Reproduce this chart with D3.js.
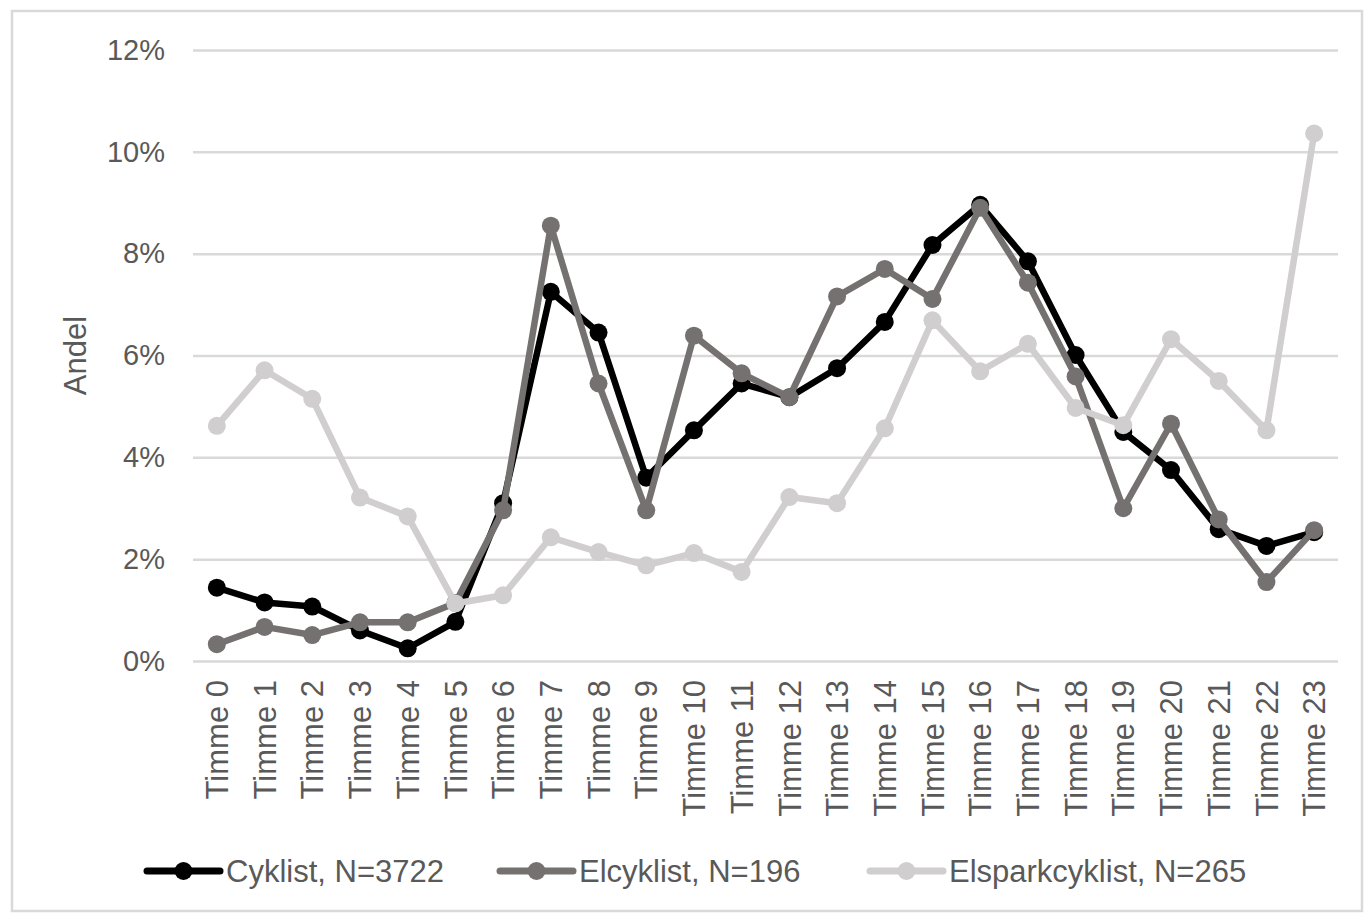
<!DOCTYPE html>
<html>
<head>
<meta charset="utf-8">
<script src="https://cdn.jsdelivr.net/npm/d3@7"></script>
<style>
  body { margin: 0; background: #fff; }
  svg { display: block; font-family: "Liberation Sans", Arial, sans-serif; }
</style>
</head>
<body>
<div id="chart"></div>
<script>
// hours on the x axis
const hours = d3.range(24).map(h => "Timme " + h);

// share per hour, in percent
const cyklist = [1.44, 1.15, 1.07, 0.60, 0.25, 0.77, 3.10, 7.25, 6.45, 3.60, 4.53, 5.45,
  5.18, 5.75, 6.66, 8.17, 8.96, 7.85, 6.01, 4.50, 3.75, 2.59, 2.26, 2.53];
const elcyklist = [0.33, 0.67, 0.51, 0.76, 0.76, 1.14, 2.96, 8.55, 5.45, 2.96, 6.39, 5.65,
  5.18, 7.16, 7.70, 7.11, 8.90, 7.43, 5.59, 3.00, 4.66, 2.78, 1.55, 2.57];
const elsparkcyklist = [4.62, 5.71, 5.15, 3.21, 2.84, 1.13, 1.29, 2.43, 2.14, 1.88, 2.12, 1.75,
  3.22, 3.10, 4.57, 6.69, 5.69, 6.23, 4.97, 4.63, 6.32, 5.50, 4.53, 10.36];

const seriesNames = ["Cyklist, N=3722", "Elcyklist, N=196", "Elsparkcyklist, N=265"];
const yTicks = [0, 2, 4, 6, 8, 10, 12];

const colors = ["#000000", "#767171", "#d0cece"];
const textColor = "#595959";

const W = 1364, H = 916;
const margin = { left: 193, right: 26, top: 50, bottom: 255 };

const svg = d3.select("#chart").append("svg")
  .attr("width", W)
  .attr("height", H);

// chart frame
svg.append("rect")
  .attr("x", 12).attr("y", 11)
  .attr("width", 1350).attr("height", 900)
  .attr("fill", "#fff")
  .attr("stroke", "#d9d9d9")
  .attr("stroke-width", 2.5);

const x = d3.scaleBand()
  .domain(hours)
  .range([margin.left, W - margin.right]);

const y = d3.scaleLinear()
  .domain([0, 12])
  .range([H - margin.bottom, margin.top]);

// gridlines + y labels
const yAxis = d3.axisLeft(y)
  .tickValues(yTicks)
  .tickSize(-(W - margin.left - margin.right))
  .tickPadding(28)
  .tickFormat(d => d + "%");

const gy = svg.append("g")
  .attr("transform", `translate(${margin.left},0)`)
  .call(yAxis);
gy.select(".domain").remove();
gy.selectAll(".tick line").attr("stroke", "#d9d9d9").attr("stroke-width", 2.5);
gy.selectAll(".tick text")
  .attr("fill", textColor)
  .style("font-size", "29px");

// x labels
const xAxis = d3.axisBottom(x).tickSize(0).tickPadding(0);
const gx = svg.append("g")
  .attr("transform", `translate(0,${H - margin.bottom})`)
  .call(xAxis);
gx.select(".domain").remove();
gx.selectAll(".tick text")
  .attr("fill", textColor)
  .style("font-size", "31px")
  .attr("text-anchor", "end")
  .attr("transform", "rotate(-90)")
  .attr("x", -19)
  .attr("y", 0)
  .attr("dy", "0.36em");

// y title
svg.append("text")
  .attr("transform", `translate(86,${(margin.top + H - margin.bottom) / 2}) rotate(-90)`)
  .attr("text-anchor", "middle")
  .attr("fill", textColor)
  .style("font-size", "31px")
  .text("Andel");

const allSeries = [cyklist, elcyklist, elsparkcyklist];
const line = d3.line()
  .x((d, i) => x(hours[i]) + x.bandwidth() / 2)
  .y(d => y(d));

allSeries.forEach((data, k) => {
  const g = svg.append("g");
  g.append("path")
    .datum(data)
    .attr("fill", "none")
    .attr("stroke", colors[k])
    .attr("stroke-width", 6.5)
    .attr("stroke-linejoin", "round")
    .attr("d", line);
  g.selectAll("circle")
    .data(data)
    .join("circle")
    .attr("cx", (d, i) => x(hours[i]) + x.bandwidth() / 2)
    .attr("cy", d => y(d))
    .attr("r", 9)
    .attr("fill", colors[k]);
});

// legend
const legendX = [147, 500, 870];
const legendY = 871;
seriesNames.forEach((name, k) => {
  const g = svg.append("g").attr("transform", `translate(${legendX[k]},${legendY})`);
  g.append("line")
    .attr("x1", 0).attr("x2", 73)
    .attr("y1", 0).attr("y2", 0)
    .attr("stroke", colors[k])
    .attr("stroke-width", 7)
    .attr("stroke-linecap", "round");
  g.append("circle")
    .attr("cx", 36.5).attr("cy", 0)
    .attr("r", 9)
    .attr("fill", colors[k]);
  g.append("text")
    .attr("x", 79)
    .attr("y", 0)
    .attr("dy", "0.36em")
    .attr("fill", textColor)
    .style("font-size", "31px")
    .text(name);
});
</script>
</body>
</html>
